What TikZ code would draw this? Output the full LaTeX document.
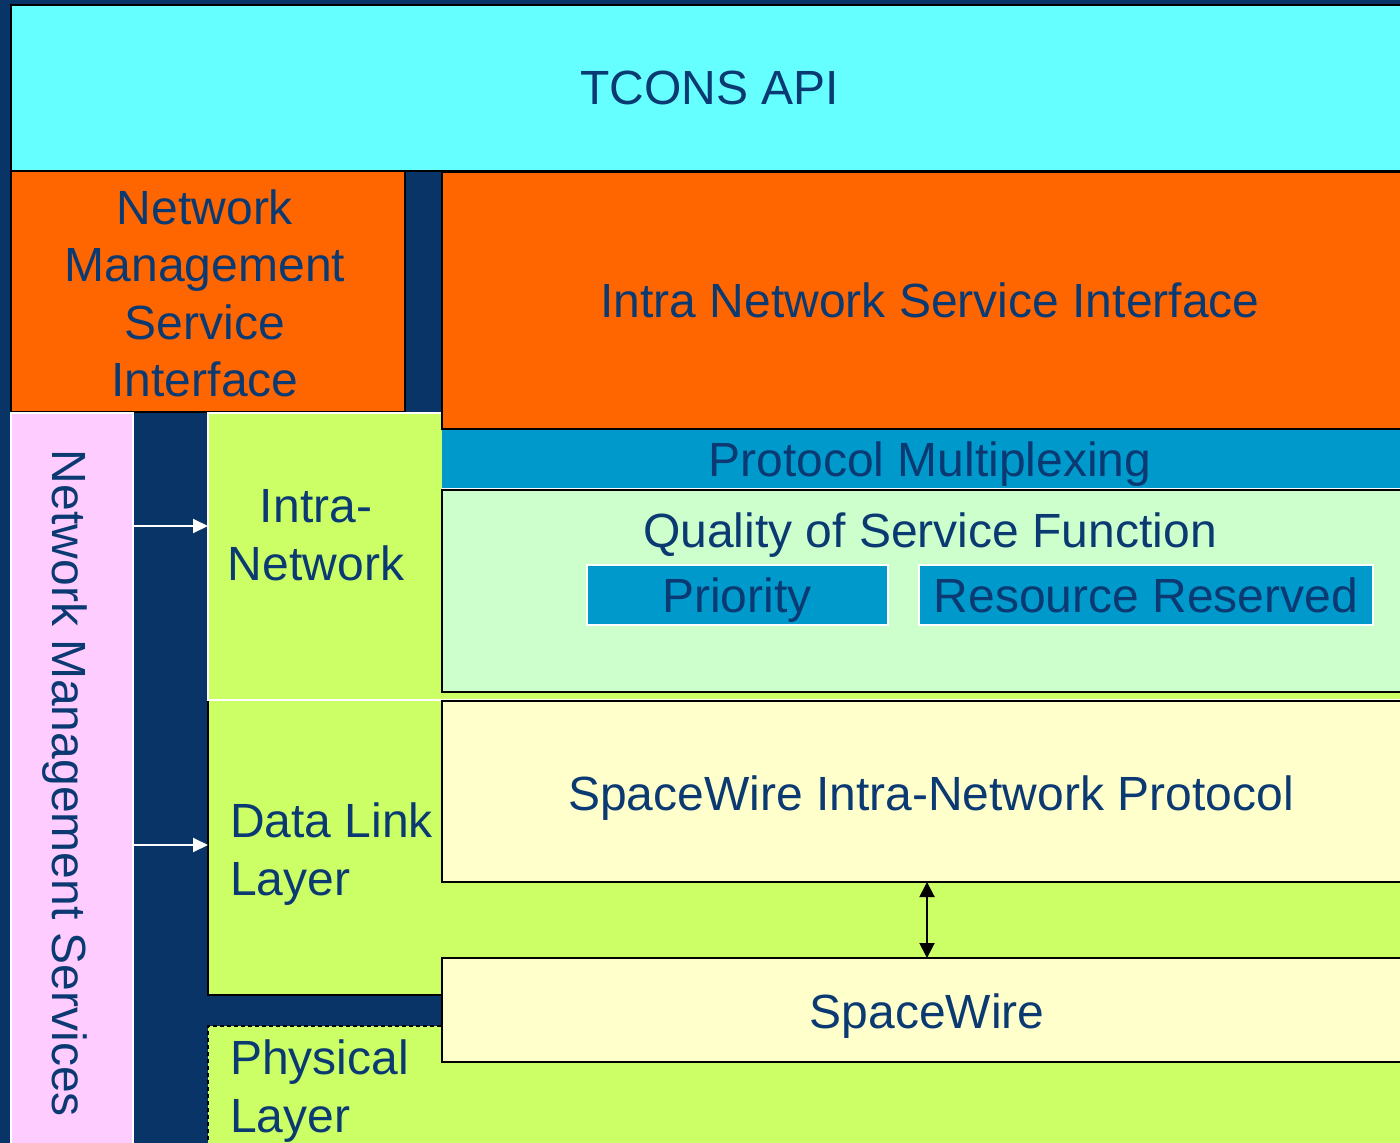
\documentclass[tikz,border=0pt]{standalone}
\usepackage{fontspec}
\setmainfont{Liberation Sans}
\usetikzlibrary{fit,arrows.meta}

\definecolor{navybg}{HTML}{083468}
\definecolor{inktext}{HTML}{0B3A73}
\definecolor{apicyan}{HTML}{66FFFF}
\definecolor{ifaceorange}{HTML}{FF6600}
\definecolor{muxblue}{HTML}{0099CC}
\definecolor{qosgreen}{HTML}{CCFFCC}
\definecolor{layerlime}{HTML}{CCFF66}
\definecolor{mgmtpink}{HTML}{FFCCFF}
\definecolor{protoyellow}{HTML}{FFFFCC}

\begin{document}
\begin{tikzpicture}[x=0.5pt,y=-0.5pt,
  box/.style={inner sep=0pt, outer sep=0pt, line width=1pt, draw=black},
  wbox/.style={box, draw=white, line width=0.8pt},
  lbl/.style={inner sep=0pt, outer sep=0pt, text=inktext,
    font=\fontsize{24}{28.75}\selectfont},
  warr/.style={draw=white, line width=1pt,
    -{Triangle[length=7.5pt,width=7pt,fill=white]}},
  darr/.style={draw=black, line width=1pt,
    {Triangle[length=7.5pt,width=7.5pt]}-{Triangle[length=7.5pt,width=7.5pt]}},
]
\fill[navybg] (0,0) rectangle (1400,1143);
\useasboundingbox (0,0) rectangle (1400,1143);
\clip (0,0) rectangle (1400,1143);

% API and management interface
\node[box, fill=apicyan, fit={(11,5) (1420,171)}] (api) {};
\node[box, fill=ifaceorange, fit={(11,171) (405,412)}] (nmsi) {};

% layers (the intra-network layer runs under the service boxes)
\node[box, fill=layerlime, fit={(208,700) (1420,995)}] (dll) {};
\node[box, dash pattern=on 2pt off 1.5pt, fill=layerlime,
  fit={(208,1026) (1420,1180)}] (phy) {};
\node[wbox, fill=mgmtpink, fit={(11,413) (133,1180)}] (nms) {};
\node[wbox, fill=layerlime, fit={(208,413) (1420,700)}] (intra) {};

% intra network service interface, multiplexing and QoS
\node[box, fill=ifaceorange, fit={(442,172) (1420,429)}] (insi) {};
\node[inner sep=0pt, outer sep=0pt, fill=muxblue, fit={(442,430) (1420,489)}] (mux) {};
\draw[white, line width=0.8pt] (mux.south west) -- (mux.south east);
\node[box, line width=0.8pt, fill=qosgreen, fit={(442,490) (1420,692)}] (qos) {};
\node[wbox, line width=1pt, fill=muxblue, fit={(587,565) (888,625)}] (prio) {};
\node[wbox, line width=1pt, fill=muxblue, fit={(919,565) (1373,625)}] (resv) {};

% protocols
\node[box, fill=protoyellow, fit={(442,701) (1420,882)}] (sinp) {};
\node[box, fill=protoyellow, fit={(442,958) (1420,1062)}] (sw) {};

% connectors
\coordinate (ya) at (0,526);
\coordinate (yb) at (0,845);
\coordinate (xc) at (927,0);
\draw[warr] (nms.east |- ya) -- (intra.west |- ya);
\draw[warr] (nms.east |- yb) -- (dll.west |- yb);
\draw[darr] (sinp.south -| xc) -- (sw.north -| xc);

% labels (multi-line labels are anchored on their last line)
\node[lbl, anchor=base] (t-api) at (710,105) {TCONS API};
\node[lbl, anchor=base, align=center] (t-nmsi) at (205,397)
  {Network\\Management\\Service\\Interface};
\node[lbl, anchor=base] (t-insi) at (930,318) {Intra Network Service Interface};
\node[lbl, anchor=base] (t-mux) at (930,477) {Protocol Multiplexing};
\node[lbl, anchor=base] (t-qos) at (930,547) {Quality of Service Function};
\node[lbl, anchor=base] (t-prio) at (737,612) {Priority};
\node[lbl, anchor=base] (t-resv) at (1146,612) {Resource Reserved};
\node[lbl, anchor=base, align=center] (t-intra) at (316,580) {Intra-\\Network};
\node[lbl, anchor=base west, align=left] (t-dll) at (230,895) {Data Link\\Layer};
\node[lbl, anchor=base west, align=left] (t-phy) at (230,1132) {Physical\\Layer};
\node[lbl, anchor=base] (t-sinp) at (931,810) {SpaceWire Intra-Network Protocol};
\node[lbl, anchor=base] (t-sw) at (927,1028) {SpaceWire};
\node[lbl, anchor=base west, rotate=-90] (t-nms) at (52,450) {Network Management Services};
\end{tikzpicture}
\end{document}
